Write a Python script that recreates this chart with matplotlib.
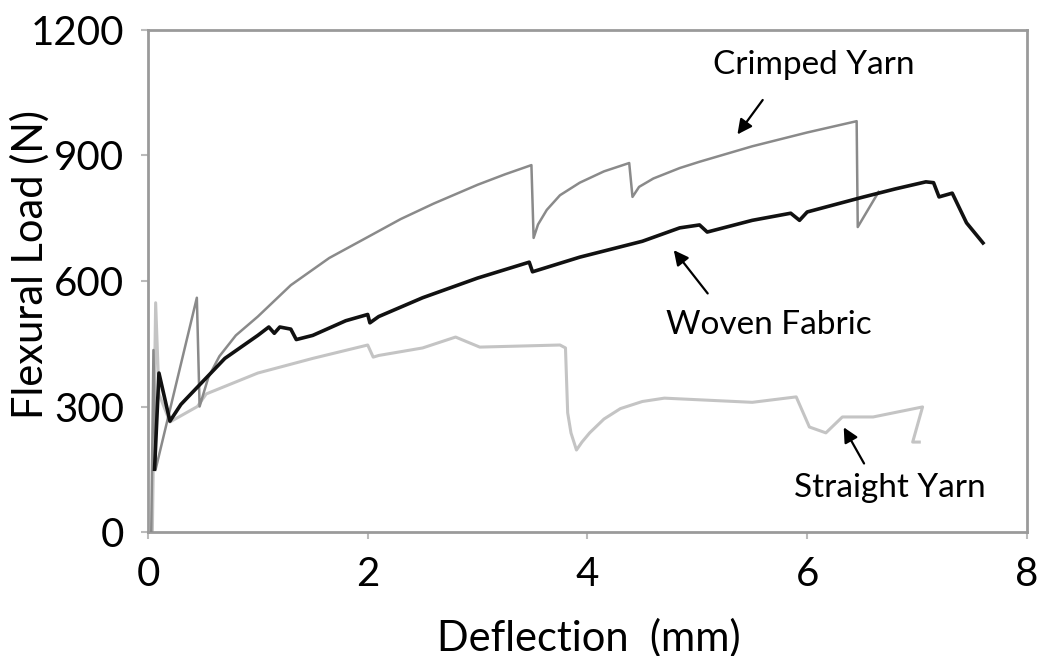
import matplotlib
matplotlib.use("Agg")
import matplotlib.pyplot as plt

plt.rcParams['font.family'] = ['Lato', 'DejaVu Sans']

# Crimped Yarn
crimped_x = [0.03, 0.05, 0.07, 0.445, 0.47, 0.55, 0.65, 0.8, 1.0, 1.3, 1.65, 2.0, 2.3, 2.6, 3.0, 3.25,
             3.49, 3.51, 3.55, 3.63, 3.75, 3.93, 4.15, 4.38, 4.41, 4.47, 4.6, 4.84, 5.02, 5.5, 6.0,
             6.45, 6.46, 6.65]
crimped_y = [0, 435, 150, 560, 300, 370, 420, 470, 515, 590, 655, 705, 748, 785, 830, 855,
             877, 703, 735, 770, 805, 835, 862, 882, 801, 825, 845, 870, 885, 922, 955,
             982, 729, 813]

# Woven Fabric
woven_x = [0.06, 0.1, 0.2, 0.3, 0.5, 0.7, 1.0, 1.1, 1.15, 1.2, 1.3, 1.35, 1.5, 1.8, 2.0, 2.02, 2.1,
           2.5, 3.0, 3.47, 3.5, 3.93, 4.5, 4.84, 5.02, 5.09, 5.5, 5.85, 5.93, 6.0, 6.5, 6.8, 7.08,
           7.15, 7.2, 7.32, 7.45, 7.6]
woven_y = [150, 380, 265, 305, 360, 415, 470, 490, 475, 490, 485, 460, 470, 505, 520, 500, 515,
           560, 607, 645, 622, 657, 695, 727, 734, 717, 745, 762, 745, 765, 800, 820, 837,
           835, 801, 810, 739, 691]

# Straight Yarn
straight_x = [0.04, 0.07, 0.1, 0.2, 0.45, 0.53, 1.0, 1.5, 2.0, 2.05, 2.1, 2.5, 2.8, 2.9, 3.02, 3.75,
              3.8, 3.82, 3.85, 3.9, 3.95, 4.02, 4.15, 4.3, 4.5, 4.7, 5.02, 5.5, 5.9, 6.02, 6.17,
              6.32, 6.6, 7.05, 6.96, 7.02]
straight_y = [0, 548, 330, 263, 300, 330, 380, 415, 447, 418, 422, 440, 466, 455, 442, 447,
              440, 285, 237, 196, 215, 237, 270, 295, 312, 320, 316, 310, 323, 251, 237,
              275, 275, 299, 215, 215]

x_ticks = [0, 2, 4, 6, 8]
y_ticks = [0, 300, 600, 900, 1200]

fig = plt.figure(figsize=(10.39, 6.56), dpi=100)
ax = fig.add_axes([0.1424, 0.189, 0.8460, 0.7653])

ax.plot(straight_x, straight_y, color='#c4c4c4', lw=2.2, solid_joinstyle='round', zorder=2)
ax.plot(crimped_x, crimped_y, color='#8a8a8a', lw=1.8, solid_joinstyle='round', zorder=3)
ax.plot(woven_x, woven_y, color='#111111', lw=2.6, solid_joinstyle='round', zorder=4)

ax.set_xlim(0, 8)
ax.set_ylim(0, 1200)
ax.set_xticks(x_ticks)
ax.set_yticks(y_ticks)
ax.set_xticklabels([str(v) for v in x_ticks])
ax.set_yticklabels([str(v) for v in y_ticks])
for s in ax.spines.values():
    s.set_color('#9a9a9a')
    s.set_linewidth(2.0)
ax.tick_params(axis='both', colors='#bbbbbb', labelcolor='black', labelsize=29,
               length=5, width=1.5, direction='out')
ax.tick_params(axis='x', pad=12)
ax.tick_params(axis='y', pad=12)

ax.set_xlabel('Deflection  (mm)', fontsize=30)
ax.set_ylabel('Flexural Load (N)', fontsize=30)
ax.xaxis.set_label_coords(0.501, -0.172)
ax.yaxis.set_label_coords(-0.112, 0.532)

arrow = dict(arrowstyle='-|>', color='black', lw=1.6, mutation_scale=22)
ax.annotate('', xy=(5.35, 945), xytext=(5.61, 1038), arrowprops=arrow)
ax.annotate('', xy=(4.77, 679), xytext=(5.11, 565), arrowprops=arrow)
ax.annotate('', xy=(6.32, 256), xytext=(6.53, 158), arrowprops=arrow)

ax.text(6.06, 1117, 'Crimped Yarn', fontsize=24, ha='center', va='center')
ax.text(5.65, 495, 'Woven Fabric', fontsize=24, ha='center', va='center')
ax.text(6.75, 105, 'Straight Yarn', fontsize=24, ha='center', va='center')

fig.savefig('out.png', dpi=100)
